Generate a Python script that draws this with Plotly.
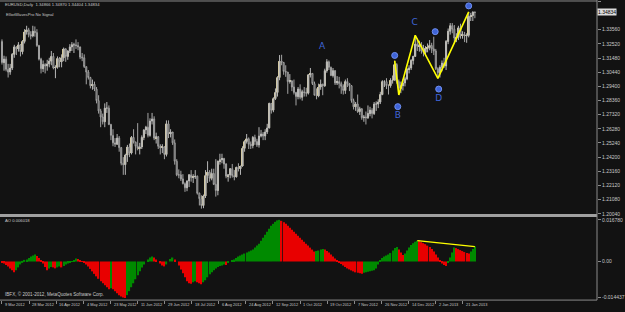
import pandas as pd
import plotly.graph_objects as go

# ---------------- data ----------------
dates = [d for d in pd.bdate_range("2012-03-09", "2013-01-29")
         if d.strftime("%Y-%m-%d") not in ("2012-12-25", "2013-01-01")]

first_open = 1.3270
highs = [1.3285,
 1.3165,1.3160,1.3105,1.3105,1.3185, 1.3245,1.3235,1.3265,1.3250,1.3280, 1.3360,1.3385,1.3370,1.3345,1.3385,
 1.3380,1.3360,1.3245,1.3150,1.3130, 1.3110,1.3135,1.3150,1.3200,1.3185, 1.3095,1.3160,1.3155,1.3175,1.3225,
 1.3220,1.3205,1.3250,1.3265,1.3260, 1.3285,1.3265,1.3225,1.3185,1.3175, 1.3085,1.3060,1.3010,1.2990,1.2975,
 1.2935,1.2875,1.2775,1.2740,1.2815, 1.2825,1.2800,1.2665,1.2625,1.2560, 1.2590,1.2575,1.2495,1.2420,1.2445,
 1.2510,1.2520,1.2575,1.2625,1.2535, 1.2670,1.2525,1.2580,1.2625,1.2650, 1.2745,1.2705,1.2745,1.2720,1.2600,
 1.2575,1.2515,1.2515,1.2500,1.2690, 1.2690,1.2625,1.2600,1.2550,1.2405, 1.2330,1.2320,1.2295,1.2235,1.2250,
 1.2295,1.2325,1.2295,1.2325,1.2285, 1.2160,1.2140,1.2145,1.2325,1.2390, 1.2325,1.2335,1.2335,1.2405,1.2395,
 1.2445,1.2445,1.2415,1.2375,1.2295, 1.2340,1.2370,1.2325,1.2350,1.2375, 1.2355,1.2500,1.2545,1.2590,1.2565,
 1.2535,1.2575,1.2585,1.2555,1.2640, 1.2620,1.2605,1.2625,1.2665,1.2820, 1.2815,1.2860,1.2925,1.3015,1.3170,
 1.3172,1.3120,1.3095,1.3045,1.3030, 1.2985,1.2990,1.2900,1.2935,1.2955, 1.2915,1.2935,1.2930,1.3030,1.3075,
 1.3035,1.2975,1.2925,1.2960,1.2990, 1.2960,1.3070,1.3140,1.3130,1.3085, 1.3075,1.3060,1.3015,1.3010,1.2975,
 1.2955,1.2990,1.3000,1.2965,1.2950, 1.2850,1.2825,1.2880,1.2790,1.2780, 1.2730,1.2755,1.2800,1.2790,1.2780,
 1.2825,1.2830,1.2845,1.2900,1.2985, 1.2985,1.3000,1.2955,1.3000,1.3020, 1.3128,1.3110,1.2990,1.2975,1.2990,
 1.3010,1.3075,1.3095,1.3140,1.3165, 1.3315,1.3290,1.3275,1.3265,1.3245, 1.3235,1.3255,1.3280,1.3260,
 1.3305,1.3215,1.3080,1.3095, 1.3130,1.3150,1.3280,1.3365,1.3405, 1.3405,1.3390,1.3330,1.3385,1.3400,
 1.3345,1.3340,1.3330,1.3487,1.3480, 1.3490,1.34870]
lows = [1.3100,
 1.3055,1.3050,1.3005,1.3025,1.3060, 1.3150,1.3170,1.3195,1.3160,1.3175, 1.3255,1.3320,1.3300,1.3285,1.3300,
 1.3305,1.3230,1.3130,1.3035,1.3045, 1.3035,1.3055,1.3080,1.3095,1.3065, 1.3000,1.3070,1.3080,1.3080,1.3125,
 1.3120,1.3135,1.3185,1.3200,1.3185, 1.3215,1.3205,1.3140,1.3125,1.3075, 1.2955,1.2990,1.2925,1.2915,1.2905,
 1.2815,1.2740,1.2640,1.2660,1.2640, 1.2745,1.2655,1.2545,1.2500,1.2495, 1.2510,1.2460,1.2360,1.2290,1.2290,
 1.2385,1.2420,1.2440,1.2520,1.2440, 1.2470,1.2440,1.2480,1.2545,1.2590, 1.2565,1.2570,1.2660,1.2545,1.2520,
 1.2480,1.2440,1.2450,1.2405,1.2425, 1.2560,1.2565,1.2510,1.2365,1.2280, 1.2265,1.2245,1.2220,1.2165,1.2170,
 1.2200,1.2240,1.2230,1.2260,1.2145, 1.2065,1.2042,1.2045,1.2120,1.2230, 1.2240,1.2250,1.2215,1.2130,1.2140,
 1.2365,1.2375,1.2335,1.2265,1.2240, 1.2265,1.2270,1.2250,1.2270,1.2315, 1.2290,1.2350,1.2460,1.2520,1.2480,
 1.2480,1.2485,1.2510,1.2495,1.2490, 1.2565,1.2545,1.2545,1.2590,1.2630, 1.2740,1.2750,1.2840,1.2865,1.2985,
 1.3095,1.3025,1.3010,1.2885,1.2960, 1.2905,1.2880,1.2800,1.2845,1.2845, 1.2835,1.2865,1.2865,1.2880,1.3005,
 1.2950,1.2875,1.2845,1.2860,1.2915, 1.2875,1.2935,1.3040,1.3060,1.3015, 1.3005,1.2950,1.2950,1.2925,1.2885,
 1.2880,1.2885,1.2935,1.2905,1.2820, 1.2770,1.2760,1.2745,1.2730,1.2695, 1.2680,1.2660,1.2700,1.2720,1.2705,
 1.2730,1.2760,1.2780,1.2810,1.2875, 1.2935,1.2920,1.2880,1.2930,1.2960, 1.3020,1.2960,1.2877,1.2890,1.2910,
 1.2940,1.2985,1.3035,1.3060,1.3100, 1.3160,1.3200,1.3195,1.3180,1.3160, 1.3175,1.3190,1.3205,1.3185,
 1.3170,1.3060,1.2998,1.3005, 1.3050,1.3075,1.3060,1.3250,1.3320, 1.3330,1.3260,1.3265,1.3280,1.3290,
 1.3290,1.3265,1.3260,1.3300,1.3420, 1.3420,1.34404]
closes = [1.3115,
 1.3140,1.3065,1.3045,1.3075,1.3175, 1.3230,1.3215,1.3245,1.3195,1.3270, 1.3340,1.3355,1.3320,1.3310,1.3345,
 1.3335,1.3240,1.3140,1.3070,1.3100, 1.3090,1.3105,1.3125,1.3160,1.3075, 1.3080,1.3145,1.3120,1.3150,1.3215,
 1.3160,1.3200,1.3230,1.3245,1.3245, 1.3240,1.3230,1.3155,1.3150,1.3085, 1.3045,1.3005,1.2945,1.2955,1.2920,
 1.2835,1.2760,1.2715,1.2680,1.2780, 1.2780,1.2660,1.2580,1.2525,1.2515, 1.2560,1.2490,1.2375,1.2365,1.2435,
 1.2495,1.2450,1.2565,1.2530,1.2500, 1.2485,1.2495,1.2565,1.2620,1.2640, 1.2580,1.2685,1.2700,1.2560,1.2570,
 1.2500,1.2490,1.2495,1.2440,1.2665, 1.2590,1.2605,1.2525,1.2390,1.2290, 1.2290,1.2260,1.2225,1.2195,1.2245,
 1.2290,1.2270,1.2275,1.2280,1.2155, 1.2115,1.2065,1.2135,1.2285,1.2310, 1.2265,1.2300,1.2220,1.2175,1.2390,
 1.2400,1.2410,1.2370,1.2280,1.2290, 1.2335,1.2285,1.2275,1.2345,1.2335, 1.2355,1.2485,1.2535,1.2555,1.2515,
 1.2505,1.2565,1.2535,1.2510,1.2575, 1.2590,1.2575,1.2605,1.2635,1.2815, 1.2765,1.2850,1.2895,1.3005,1.3125,
 1.3115,1.3050,1.3045,1.2975,1.2980, 1.2935,1.2895,1.2865,1.2920,1.2860, 1.2900,1.2895,1.2890,1.3025,1.3035,
 1.2960,1.2875,1.2870,1.2935,1.2955, 1.2945,1.3055,1.3120,1.3080,1.3020, 1.3055,1.2965,1.2975,1.2960,1.2940,
 1.2910,1.2975,1.2960,1.2945,1.2835, 1.2790,1.2810,1.2755,1.2775,1.2710, 1.2715,1.2710,1.2740,1.2765,1.2740,
 1.2810,1.2810,1.2825,1.2880,1.2975, 1.2975,1.2945,1.2945,1.2985,1.2985, 1.3100,1.2975,1.2925,1.2945,1.2965,
 1.2995,1.3065,1.3075,1.3130,1.3160, 1.3250,1.3235,1.3245,1.3200,1.3190, 1.3220,1.3225,1.3240,1.3215,
 1.3200,1.3070,1.3040,1.3080, 1.3110,1.3090,1.3270,1.3345,1.3385, 1.3360,1.3295,1.3300,1.3370,1.3315,
 1.3320,1.3310,1.3315,1.3455,1.3460, 1.34866,1.34834]

# Awesome Oscillator values, in pips (1 pip = 0.0001)
ao_pips = [-4,-8,-14,-20,-28,-36,-44,-36,-24,-12,
 -2,4,8,14,20,24,28,22,14,4,
 -8,-22,-36,-28,-22,-24,-28,-24,-20,-24,
 -18,-12,-8,-4,2,6,12,10,6,2,
 -4,-12,-20,-30,-40,-50,-60,-70,-80,-88,
 -96,-104,-112,-108,-112,-120,-128,-136,-142,-146,
 -148,-136,-120,-104,-88,-72,-56,-40,-24,-12,
 0,8,16,20,16,8,0,-8,-16,-20,
 -12,0,10,16,8,0,-16,-32,-48,-64,
 -80,-88,-90,-84,-80,-84,-88,-92,-84,-76,
 -64,-52,-44,-36,-28,-22,-18,-16,-12,-14,
 -6,0,4,8,14,20,24,28,32,36,
 40,44,48,56,64,72,84,96,108,120,
 132,144,152,160,166,168,164,158,152,144,
 136,128,120,112,104,96,88,80,72,64,
 56,48,40,42,44,48,50,48,42,36,
 28,20,12,4,-4,-10,-16,-22,-28,-32,
 -36,-40,-44,-46,-48,-50,-46,-44,-42,-40,
 -38,-36,-28,-12,4,14,20,24,28,34,
 44,54,58,48,36,26,32,44,56,66,
 74,80,84,82,78,74,70,64,58,50,
 40,28,16,4,-8,-14,-18,-4,16,36,
 56,54,50,46,42,38,34,32,40,50,
 60]

# Elliott wave zigzag (bar index, price) and labels
wave_idx = [191, 193, 201, 212, 227]
wave_px = [1.3128, 1.2877, 1.3315, 1.2998, 1.3487]
letters = ["A", "B", "C", "D"]
letters_idx = [155.7, 192.5, 200.7, 212.4]
letters_px = [1.3233, 1.2722, 1.3405, 1.2847]
dots_idx = [191, 192.5, 210.7, 212.4, 227]
dots_px = [1.3167, 1.2791, 1.3342, 1.2920, 1.3531]
div_idx = [202, 230]
div_pips = [84, 60]

price_ticks = [1.2004, 1.2108, 1.2212, 1.2316, 1.2420, 1.2524, 1.2628, 1.2732,
               1.2836, 1.2940, 1.3044, 1.3148, 1.3252, 1.3356, 1.3564]
ao_ticks = [168, 0, -144]
ao_ticktext = ["0.016780", "0.00", "-0.014437"]
date_labels = ["9 Mar 2012", "28 Mar 2012", "16 Apr 2012", "4 May 2012", "23 May 2012",
               "11 Jun 2012", "29 Jun 2012", "18 Jul 2012", "6 Aug 2012", "24 Aug 2012",
               "12 Sep 2012", "1 Oct 2012", "19 Oct 2012", "7 Nov 2012", "26 Nov 2012",
               "14 Dec 2012", "2 Jan 2013", "21 Jan 2013"]
date_label_step = 13.18  # bars between MT4 time labels

# ---------------- figure ----------------
n = len(closes)
idx = list(range(n))
opens = [first_open] + closes[:-1]

W, H = 625, 312
PW = 608
BG = "#121212"
TXT = "#c8c8c8"
FONT = "Liberation Sans"

def py(px):   # pixel row -> paper y
    return 1 - px / H

def pxx(px):  # pixel col -> paper x
    return px / PW

fig = go.Figure()

# candles: gray wicks/outlines, khaki bodies for rising bars
fig.add_trace(go.Candlestick(
    x=idx, open=opens, high=highs, low=lows, close=closes,
    increasing=dict(line=dict(color="#b8b8b8", width=1), fillcolor="#b8b8b8"),
    decreasing=dict(line=dict(color="#a4a4a4", width=1), fillcolor="#141414"),
    whiskerwidth=0, xaxis="x", yaxis="y", hoverinfo="skip", showlegend=False))

up_idx = [i for i in idx if closes[i] > opens[i]]
fig.add_trace(go.Bar(
    x=up_idx, y=[closes[i] - opens[i] for i in up_idx], base=[opens[i] for i in up_idx],
    width=0.75, marker=dict(color="#e8d690", line=dict(width=0)),
    xaxis="x", yaxis="y", hoverinfo="skip", showlegend=False))

fig.add_trace(go.Scatter(x=wave_idx, y=wave_px, mode="lines",
                         line=dict(color="#ffff00", width=1.6),
                         xaxis="x", yaxis="y", hoverinfo="skip", showlegend=False))
fig.add_trace(go.Scatter(x=dots_idx, y=dots_px, mode="markers",
                         marker=dict(color="#3f64d8", size=6, line=dict(color="#6f8ff0", width=1)),
                         xaxis="x", yaxis="y", hoverinfo="skip", showlegend=False))
fig.add_trace(go.Scatter(x=letters_idx, y=letters_px, mode="text", text=letters,
                         textfont=dict(color="#3f64d8", size=9, family="DejaVu Sans"),
                         xaxis="x", yaxis="y", hoverinfo="skip", showlegend=False))

ao_colors = ["#008a00" if (i > 0 and ao_pips[i] > ao_pips[i - 1]) else "#e80000"
             for i in range(len(ao_pips))]
fig.add_trace(go.Bar(x=idx[:len(ao_pips)], y=ao_pips, width=0.62,
                     marker=dict(color=ao_colors, line=dict(width=0)),
                     xaxis="x2", yaxis="y2", hoverinfo="skip", showlegend=False))
fig.add_trace(go.Scatter(x=div_idx, y=div_pips, mode="lines",
                         line=dict(color="#ffff00", width=1.4),
                         xaxis="x2", yaxis="y2", hoverinfo="skip", showlegend=False))

xr = [-0.96, -0.96 + PW / 2.094]
tick_pos = [k * date_label_step for k in range(len(date_labels))]

annotations = [
    dict(text="EURUSD,Daily  1.34866 1.34870 1.34404 1.34834", x=pxx(3), y=py(5), fs=4.2),
    dict(text="ElliotWavesPro No Signal", x=pxx(4), y=py(15), fs=4.2),
    dict(text="AO 0.006018", x=pxx(3), y=py(223), fs=4.2),
    dict(text="IBFX, © 2001-2012, MetaQuotes Software Corp.", x=pxx(3), y=py(297), fs=4.6),
]
for a in annotations:
    fs = a.pop("fs")
    a.update(xref="paper", yref="paper", xanchor="left", yanchor="middle",
             showarrow=False, font=dict(color=TXT, size=fs, family=FONT))
for t, lab in zip(tick_pos, date_labels):
    annotations.append(dict(text=lab, x=t + 0.6, y=py(307.5), xref="x2", yref="paper",
                            xanchor="left", yanchor="middle", showarrow=False,
                            font=dict(color=TXT, size=3.9, family=FONT)))
# current price label
annotations.append(dict(text="1.34834", x=1.0, y=closes[-1], xref="paper", yref="y",
                        xanchor="left", yanchor="middle", showarrow=False, bgcolor="#dcdcdc",
                        font=dict(color="#000000", size=5, family=FONT), borderpad=0))

shapes = [
    dict(type="line", xref="paper", yref="paper", x0=0, x1=1, y0=py(1), y1=py(1),
         line=dict(color="#8a8a8a", width=1)),
    dict(type="line", xref="paper", yref="paper", x0=0, x1=1, y0=py(217.5), y1=py(217.5),
         line=dict(color="#a0a0a0", width=3)),
    dict(type="line", xref="paper", yref="paper", x0=0, x1=1, y0=py(303), y1=py(303),
         line=dict(color="#8a8a8a", width=1)),
    dict(type="line", xref="paper", yref="paper", x0=1, x1=1, y0=py(303), y1=py(0),
         line=dict(color="#8a8a8a", width=1)),
]

fig.update_layout(
    width=W, height=H, margin=dict(l=0, r=W - PW, t=0, b=0),
    paper_bgcolor=BG, plot_bgcolor=BG, barmode="overlay", showlegend=False,
    annotations=annotations, shapes=shapes,
    xaxis=dict(domain=[0, 1], range=xr, anchor="y", showgrid=False, zeroline=False,
               showticklabels=False, rangeslider=dict(visible=False), fixedrange=True),
    xaxis2=dict(domain=[0, 1], range=xr, anchor="y2", matches="x", showgrid=False, zeroline=False,
                showticklabels=False, tickvals=tick_pos, ticks="outside", ticklen=3,
                tickcolor="#8a8a8a", showline=False),
    yaxis=dict(domain=[py(216), py(1)], range=[1.2003, 1.2004 + 215 * 0.000727], side="right",
               tickvals=price_ticks, tickformat=".5f", showgrid=False, zeroline=False,
               ticks="outside", ticklen=3, tickcolor="#8a8a8a",
               tickfont=dict(color=TXT, size=5, family=FONT)),
    yaxis2=dict(domain=[py(303), py(219)], range=[-156, 180], side="right",
                tickvals=ao_ticks, ticktext=ao_ticktext, showgrid=False, zeroline=False,
                ticks="outside", ticklen=3, tickcolor="#8a8a8a",
                tickfont=dict(color=TXT, size=5, family=FONT)),
)

fig.write_html("out.html")
